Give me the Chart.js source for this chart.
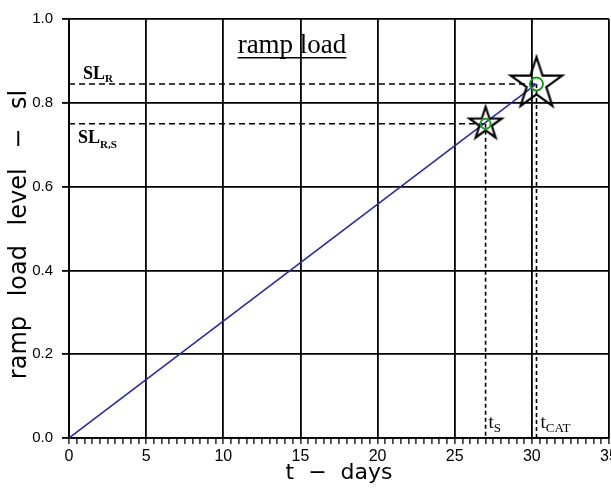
<!DOCTYPE html>
<html>
<head>
<meta charset="utf-8">
<script src="https://cdn.jsdelivr.net/npm/chart.js@4.4.1/dist/chart.umd.min.js"></script>
<style>
  html, body { margin: 0; padding: 0; background: #fff; }
</style>
</head>
<body>
<canvas id="rampChart" width="611" height="491"></canvas>
<script>
// ramp load: level grows linearly with time up to collapse
const rampDays = [0, 30.3];
const rampLevel = [0, 0.845];

// marked states: S (serviceability) and CAT (collapse)
const markDays = [27, 30.3];
const markLevel = [0.75, 0.845];

const xMax = 35;
const xMajorStep = 5;
const xMinorStep = 0.5;
const yMax = 1.0;
const yStep = 0.2;

function makeStar(outer, lineWidth) {
  const pad = lineWidth * 3 + 2;
  const size = Math.ceil(outer * 2 + pad * 2);
  const c = document.createElement("canvas");
  c.width = size;
  c.height = size;
  const g = c.getContext("2d");
  const cx = size / 2, cy = size / 2, inner = outer * 0.382;
  g.beginPath();
  for (let i = 0; i < 10; i++) {
    const r = i % 2 ? inner : outer;
    const a = -Math.PI / 2 + i * Math.PI / 5;
    g.lineTo(cx + r * Math.cos(a), cy + r * Math.sin(a));
  }
  g.closePath();
  g.lineWidth = lineWidth;
  g.strokeStyle = "#000";
  g.stroke();
  return c;
}

const stars = [makeStar(17, 2.2), makeStar(27, 2.2)];
const pt = (xs, ys) => xs.map((x, i) => ({ x, y: ys[i] }));

// dashed guide lines from the axes to each marked state
const guides = [];
markDays.forEach((d, i) => {
  guides.push({ data: [{ x: 0, y: markLevel[i] }, { x: d, y: markLevel[i] }], borderDash: [6, 4] });
  guides.push({ data: [{ x: d, y: markLevel[i] }, { x: d, y: 0 }], borderDash: [4, 3] });
});

const labelsPlugin = {
  id: "rampLabels",
  afterDatasetsDraw(chart) {
    const { ctx, scales: { x, y } } = chart;
    ctx.save();
    ctx.fillStyle = "#000";
    ctx.textBaseline = "alphabetic";

    // title inside the plot, underlined
    ctx.font = "27px 'Liberation Serif'";
    ctx.textAlign = "center";
    const tx = 292, ty = 53;
    ctx.fillText("ramp load", tx, ty);
    const w = ctx.measureText("ramp load").width;
    ctx.fillRect(tx - w / 2, ty + 4, w, 1.5);

    ctx.textAlign = "left";
    const sub = (main, s, px, py, mainFont, subFont, drop) => {
      ctx.font = mainFont;
      ctx.fillText(main, px, py);
      const mw = ctx.measureText(main).width;
      ctx.font = subFont;
      ctx.fillText(s, px + mw, py + drop);
    };

    const yR = y.getPixelForValue(markLevel[1]);
    const yS = y.getPixelForValue(markLevel[0]);
    sub("SL", "R", 83, yR - 5, "bold 18px 'Liberation Serif'", "bold 11px 'Liberation Serif'", 3);
    sub("SL", "R,S", 78, yS + 19, "bold 18px 'Liberation Serif'", "bold 11px 'Liberation Serif'", 5);

    const base = y.getPixelForValue(0) - 10;
    sub("t", "S", x.getPixelForValue(markDays[0]) + 3, base, "19px 'Liberation Serif'", "13px 'Liberation Serif'", 4);
    sub("t", "CAT", x.getPixelForValue(markDays[1]) + 4, base, "19px 'Liberation Serif'", "13px 'Liberation Serif'", 4);
    ctx.restore();
  }
};

new Chart(document.getElementById("rampChart"), {
  type: "line",
  data: {
    datasets: [
      {
        data: pt(markDays, markLevel),
        showLine: false,
        pointStyle: "circle",
        pointRadius: [5, 6.5],
        pointHoverRadius: 0,
        pointBorderWidth: 2,
        pointBorderColor: "#1f9a1f",
        pointBackgroundColor: "rgba(0,0,0,0)",
        order: 0
      },
      {
        data: pt(markDays, markLevel),
        showLine: false,
        pointStyle: stars,
        pointRadius: 3,
        order: 1
      },
      {
        data: pt(rampDays, rampLevel),
        borderColor: "#2b2ba0",
        borderWidth: 1.6,
        pointRadius: 0,
        order: 2
      },
      ...guides.map(g => ({
        data: g.data,
        borderColor: "#000",
        borderWidth: 1.6,
        borderDash: g.borderDash,
        pointRadius: 0,
        order: 3
      }))
    ]
  },
  options: {
    responsive: false,
    animation: false,
    layout: { autoPadding: false, padding: { top: 19, right: 2, left: 0, bottom: 0 } },
    plugins: {
      legend: { display: false },
      tooltip: { enabled: false }
    },
    scales: {
      x: {
        type: "linear",
        min: 0,
        max: xMax,
        afterFit(s) {
          s.height = 53;
          s.paddingLeft = s.paddingRight = s.paddingTop = s.paddingBottom = 0;
        },
        ticks: {
          stepSize: xMinorStep,
          autoSkip: false,
          maxRotation: 0,
          padding: 3,
          color: "#000",
          font: { family: "'Liberation Sans'", size: 16 },
          callback: v => (Math.abs(v % xMajorStep) < 1e-9 ? String(v) : "")
        },
        grid: {
          color: c => (c.tick && Math.abs(c.tick.value % xMajorStep) < 1e-9 ? "#000" : "rgba(0,0,0,0)"),
          tickColor: "#000",
          lineWidth: 1.8,
          tickWidth: 1.3,
          tickLength: 6
        },
        border: { color: "#000", width: 1.8 },
        title: {
          display: true,
          text: "t  \u2212  days",
          color: "#000",
          font: { family: "'DejaVu Sans'", size: 22 },
          padding: { top: 0, bottom: 5 }
        }
      },
      y: {
        min: 0,
        max: yMax,
        afterFit(s) {
          s.width = 69;
          s.paddingLeft = s.paddingRight = s.paddingTop = s.paddingBottom = 0;
        },
        ticks: {
          stepSize: yStep,
          padding: 9,
          color: "#000",
          font: { family: "'Liberation Sans'", size: 15 },
          callback: v => v.toFixed(1)
        },
        grid: {
          color: "#000",
          lineWidth: 1.8,
          tickLength: 7
        },
        border: { color: "#000", width: 1.8 },
        title: {
          display: true,
          text: "ramp\u2002 load\u2002 level\u2002 \u2212\u2002 sl\u2002",
          color: "#000",
          font: { family: "'DejaVu Sans'", size: 24 },
          padding: { top: 5, bottom: 0 }
        }
      }
    }
  },
  plugins: [labelsPlugin]
});
</script>
</body>
</html>
